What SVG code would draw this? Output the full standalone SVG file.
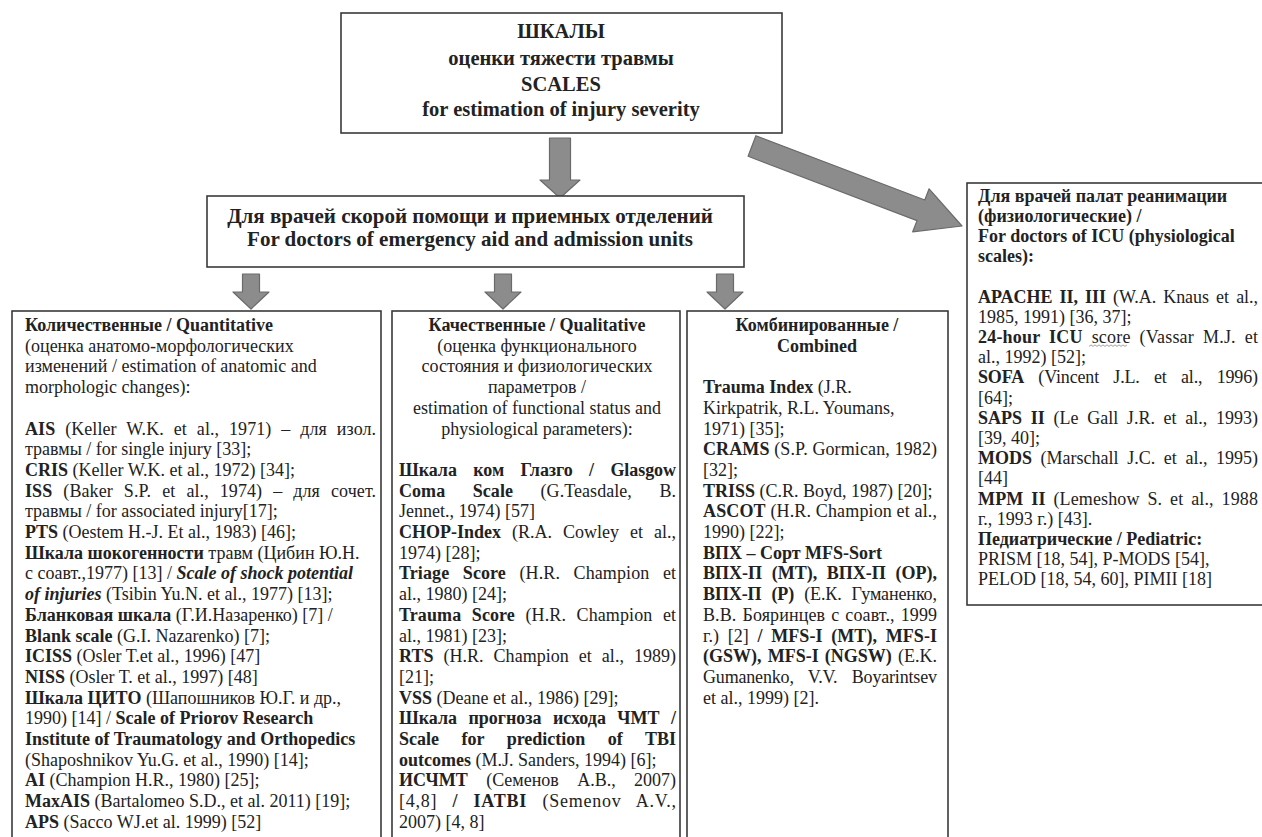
<svg xmlns="http://www.w3.org/2000/svg" width="1262" height="837" viewBox="0 0 1262 837">
<style>
text{font-family:"Liberation Serif","Times New Roman",serif;fill:#222;}
.h{font-size:20.5px;font-weight:bold;text-anchor:middle;}
.m{font-size:21px;font-weight:bold;text-anchor:middle;}
.t{font-size:18px;}
.c{text-anchor:middle;}
.b{font-weight:bold;}
.i{font-style:italic;}
.box{fill:#fff;stroke:#3a3a3a;stroke-width:1.6;}
.arr{fill:#8c8c8c;stroke:#6a6a6a;stroke-width:1.2;stroke-linejoin:round;}
.sq{fill:none;stroke:#888;stroke-width:0.8;}
</style>
<rect width="1262" height="837" fill="#fff"/>

<g id="connectors">
<polygon class="arr" points="549.5,138 570.5,138 570.5,180 580,180 560,198 540,180 549.5,180"/>
<polygon class="arr" points="242.5,274 259.5,274 259.5,292 269,292 251,309 233,292 242.5,292"/>
<polygon class="arr" points="494.5,274 511.5,274 511.5,292 521,292 503,309 485,292 494.5,292"/>
<polygon class="arr" points="716.5,274 733.5,274 733.5,292 743,292 725,309 707,292 716.5,292"/>
<polygon class="arr" points="755.9,135.7 924.8,200 929.1,188.8 962,226 912.7,231.8 917,220.6 748.1,156.3"/>
</g>

<g id="top">
<rect class="box" x="341" y="13" width="441" height="120"/>
<text class="h" x="561" y="38">ШКАЛЫ</text>
<text class="h" x="561" y="65">оценки тяжести травмы</text>
<text class="h" x="561" y="91">SCALES</text>
<text class="h" x="561" y="116">for estimation of injury severity</text>
</g>

<g id="emergency">
<rect class="box" x="207" y="196" width="537" height="71"/>
<text class="m" x="470" y="223">Для врачей скорой помощи и приемных отделений</text>
<text class="m" x="470" y="245.5">For doctors of emergency aid and admission units</text>
</g>

<g id="quantitative">
<rect class="box" x="12" y="311" width="369" height="540"/>
<text class="t" x="25" y="331"><tspan class="b">Количественные / Quantitative</tspan></text>
<text class="t" x="25" y="351.7">(оценка анатомо-морфологических</text>
<text class="t" x="25" y="372.4">изменений / estimation of anatomic and</text>
<text class="t" x="25" y="393.1">morphologic changes):</text>
<text class="t" x="25" y="434.5" word-spacing="5.4" textLength="351" lengthAdjust="spacing"><tspan class="b">AIS</tspan> (Keller W.K. et al., 1971) – для изол.</text>
<text class="t" x="25" y="455.2">травмы / for single injury [33];</text>
<text class="t" x="25" y="475.9"><tspan class="b">CRIS</tspan> (Keller W.K. et al., 1972) [34];</text>
<text class="t" x="25" y="496.6" word-spacing="6.4" textLength="351" lengthAdjust="spacing"><tspan class="b">ISS</tspan> (Baker S.P. et al., 1974) – для сочет.</text>
<text class="t" x="25" y="517.3">травмы / for associated injury[17];</text>
<text class="t" x="25" y="538"><tspan class="b">PTS</tspan> (Oestem H.-J. Et al., 1983) [46];</text>
<text class="t" x="25" y="558.7"><tspan class="b">Шкала шокогенности</tspan> травм (Цибин Ю.Н.</text>
<text class="t" x="25" y="579.4">с соавт.,1977) [13] / <tspan class="b i">Scale of shock potential</tspan></text>
<text class="t" x="25" y="600.1"><tspan class="b i">of injuries</tspan> (Tsibin Yu.N. et al., 1977) [13];</text>
<text class="t" x="25" y="620.8"><tspan class="b">Бланковая шкала</tspan> (Г.И.Назаренко) [7] /</text>
<text class="t" x="25" y="641.5"><tspan class="b">Blank scale</tspan> (G.I. Nazarenko) [7];</text>
<text class="t" x="25" y="662.2"><tspan class="b">ICISS</tspan> (Osler  T.et al., 1996) [47]</text>
<text class="t" x="25" y="682.9"><tspan class="b">NISS</tspan> (Osler  T. et al., 1997) [48]</text>
<text class="t" x="25" y="703.6"><tspan class="b">Шкала ЦИТО</tspan> (Шапошников Ю.Г. и др.,</text>
<text class="t" x="25" y="724.3">1990) [14] / <tspan class="b">Scale of Priorov Research</tspan></text>
<text class="t" x="25" y="745"><tspan class="b">Institute  of Traumatology and Orthopedics</tspan></text>
<text class="t" x="25" y="765.7">(Shaposhnikov Yu.G. et al., 1990) [14];</text>
<text class="t" x="25" y="786.4"><tspan class="b">AI</tspan> (Champion H.R., 1980) [25];</text>
<text class="t" x="25" y="807.1"><tspan class="b">MaxAIS</tspan> (Bartalomeo S.D., et al. 2011) [19];</text>
<text class="t" x="25" y="827.8"><tspan class="b">APS</tspan> (Sacco WJ.et al. 1999) [52]</text>
</g>

<g id="qualitative">
<rect class="box" x="392" y="311" width="288" height="540"/>
<text class="t c b" x="537" y="331">Качественные / Qualitative</text>
<text class="t c" x="537" y="351.7">(оценка функционального</text>
<text class="t c" x="537" y="372.4">состояния и физиологических</text>
<text class="t c" x="537" y="393.1">параметров /</text>
<text class="t c" x="537" y="413.8">estimation of functional status and</text>
<text class="t c" x="537" y="434.5">physiological parameters):</text>
<text class="t" x="399" y="475.9" word-spacing="12" textLength="277" lengthAdjust="spacing"><tspan class="b">Шкала ком Глазго / Glasgow</tspan></text>
<text class="t" x="399" y="496.6" word-spacing="23" textLength="277" lengthAdjust="spacing"><tspan class="b">Coma Scale</tspan> (G.Teasdale, B.</text>
<text class="t" x="399" y="517.3">Jennet., 1974) [57]</text>
<text class="t" x="399" y="538" word-spacing="6.5" textLength="277" lengthAdjust="spacing"><tspan class="b">CHOP-Index</tspan> (R.A. Cowley et al.,</text>
<text class="t" x="399" y="558.7">1974) [28];</text>
<text class="t" x="399" y="579.4" word-spacing="9" textLength="277" lengthAdjust="spacing"><tspan class="b">Triage Score</tspan> (H.R. Champion et</text>
<text class="t" x="399" y="600.1">al., 1980) [24];</text>
<text class="t" x="399" y="620.8" word-spacing="6" textLength="277" lengthAdjust="spacing"><tspan class="b">Trauma Score</tspan> (H.R. Champion et</text>
<text class="t" x="399" y="641.5">al., 1981) [23];</text>
<text class="t" x="399" y="662.2" word-spacing="5.5" textLength="277" lengthAdjust="spacing"><tspan class="b">RTS</tspan> (H.R. Champion et al., 1989)</text>
<text class="t" x="399" y="682.9">[21];</text>
<text class="t" x="399" y="703.6"><tspan class="b">VSS</tspan> (Deane et al., 1986) [29];</text>
<text class="t" x="399" y="724.3" word-spacing="7" textLength="277" lengthAdjust="spacing"><tspan class="b">Шкала прогноза исхода ЧМТ /</tspan></text>
<text class="t" x="399" y="745" word-spacing="18" textLength="277" lengthAdjust="spacing"><tspan class="b">Scale for prediction of TBI</tspan></text>
<text class="t" x="399" y="765.7"><tspan class="b">outcomes</tspan> (M.J. Sanders, 1994) [6];</text>
<text class="t" x="399" y="786.4" word-spacing="14" textLength="277" lengthAdjust="spacing"><tspan class="b">ИСЧМТ</tspan> (Семенов А.В., 2007)</text>
<text class="t" x="399" y="807.1" word-spacing="10" textLength="277" lengthAdjust="spacing">[4,8] <tspan class="b">/ IATBI</tspan> (Semenov A.V.,</text>
<text class="t" x="399" y="827.8">2007) [4, 8]</text>
</g>

<g id="combined">
<rect class="box" x="687" y="311" width="261" height="540"/>
<text class="t c b" x="817" y="331">Комбинированные /</text>
<text class="t c b" x="817" y="351.7">Combined</text>
<text class="t" x="703" y="393.1"><tspan class="b">Trauma Index</tspan>  (J.R.</text>
<text class="t" x="703" y="413.8">Kirkpatrik, R.L. Youmans,</text>
<text class="t" x="703" y="434.5">1971) [35];</text>
<text class="t" x="703" y="455.2" textLength="234" lengthAdjust="spacing"><tspan class="b">CRAMS</tspan> (S.P. Gormican, 1982)</text>
<text class="t" x="703" y="475.9">[32];</text>
<text class="t" x="703" y="496.6"><tspan class="b">TRISS</tspan> (C.R. Boyd, 1987) [20];</text>
<text class="t" x="703" y="517.3" textLength="234" lengthAdjust="spacing"><tspan class="b">ASCOT</tspan>  (H.R. Champion et al.,</text>
<text class="t" x="703" y="538">1990) [22];</text>
<text class="t b" x="703" y="558.7">ВПХ – Сорт MFS-Sort</text>
<text class="t b" x="703" y="579.4" word-spacing="5" textLength="234" lengthAdjust="spacing">ВПХ-П (МТ), ВПХ-П (ОР),</text>
<text class="t" x="703" y="600.1" word-spacing="5.6" textLength="234" lengthAdjust="spacing"><tspan class="b">ВПХ-П (Р)</tspan> (Е.К. Гуманенко,</text>
<text class="t" x="703" y="620.8" word-spacing="1.5" textLength="234" lengthAdjust="spacing">В.В. Бояринцев с соавт., 1999</text>
<text class="t" x="703" y="641.5" word-spacing="4" textLength="234" lengthAdjust="spacing">г.) [2] <tspan class="b">/ MFS-I (MT), MFS-I</tspan></text>
<text class="t" x="703" y="662.2" word-spacing="1.7" textLength="234" lengthAdjust="spacing"><tspan class="b">(GSW), MFS-I (NGSW)</tspan> (E.K.</text>
<text class="t" x="703" y="682.9" word-spacing="10" textLength="234" lengthAdjust="spacing">Gumanenko, V.V. Boyarintsev</text>
<text class="t" x="703" y="703.6">et al., 1999) [2].</text>
</g>

<g id="icu">
<rect class="box" x="967" y="183" width="300" height="422"/>
<text class="t b" x="978" y="201.5">Для врачей палат реанимации</text>
<text class="t b" x="978" y="221.7">(физиологические) /</text>
<text class="t b" x="978" y="241.9"> For doctors of ICU (physiological</text>
<text class="t b" x="978" y="262.1">scales):</text>
<text class="t" x="978" y="302.5" word-spacing="2.7" textLength="280" lengthAdjust="spacing"><tspan class="b">APACHE II, III</tspan> (W.A. Knaus et al.,</text>
<text class="t" x="978" y="322.7">1985, 1991) [36, 37];</text>
<text class="t" x="978" y="342.9" word-spacing="4.3" textLength="280" lengthAdjust="spacing"><tspan class="b">24-hour ICU</tspan> score (Vassar M.J. et</text>
<path class="sq" d="M1089,346.4 l2,-1.5 l2,1.5 l2,-1.5 l2,1.5 l2,-1.5 l2,1.5 l2,-1.5 l2,1.5 l2,-1.5 l2,1.5 l2,-1.5 l2,1.5 l2,-1.5 l2,1.5 l2,-1.5 l2,1.5 l2,-1.5 l2,1.5 l2,-1.5"/>
<text class="t" x="978" y="363.1">al., 1992) [52];</text>
<text class="t" x="978" y="383.3" word-spacing="10" textLength="280" lengthAdjust="spacing"><tspan class="b">SOFA</tspan> (Vincent J.L. et al., 1996)</text>
<text class="t" x="978" y="403.5">[64];</text>
<text class="t" x="978" y="423.7" word-spacing="4.2" textLength="280" lengthAdjust="spacing"><tspan class="b">SAPS II</tspan> (Le Gall J.R. et al., 1993)</text>
<text class="t" x="978" y="443.9">[39, 40];</text>
<text class="t" x="978" y="464.1" word-spacing="4.1" textLength="280" lengthAdjust="spacing"><tspan class="b">MODS</tspan> (Marschall J.C. et al., 1995)</text>
<text class="t" x="978" y="484.3">[44]</text>
<text class="t" x="978" y="504.5" word-spacing="3.2" textLength="280" lengthAdjust="spacing"><tspan class="b">MPM II</tspan> (Lemeshow S. et al., 1988</text>
<text class="t" x="978" y="524.7">г., 1993 г.) [43].</text>
<text class="t b" x="978" y="544.9">Педиатрические / Pediatric:</text>
<text class="t" x="978" y="565.1">PRISM [18, 54], P-MODS  [54],</text>
<text class="t" x="978" y="585.3">PELOD [18, 54, 60], PIMII [18]</text>
</g>
</svg>
